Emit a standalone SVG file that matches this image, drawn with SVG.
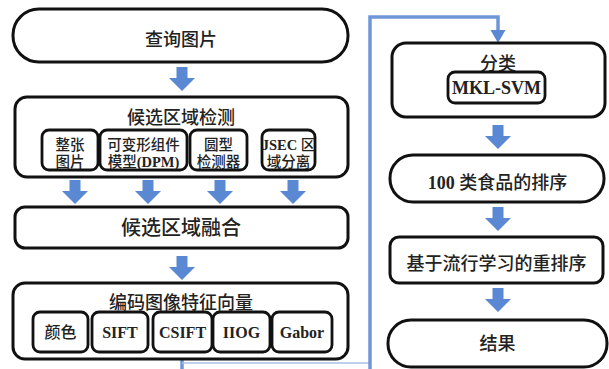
<svg xmlns="http://www.w3.org/2000/svg" width="609" height="369" viewBox="0 0 609 369">
<style>
.box{fill:#fff;stroke:#111;stroke-width:3}
.ibox{fill:#fff;stroke:#111;stroke-width:2.8}
.arr{fill:#5b88d2}
.conn{fill:none;stroke:#6f97d8;stroke-width:3.5}
.connlt{fill:none;stroke:#a9c0e6;stroke-width:1.5}
text{font-family:"Liberation Serif","Noto Sans CJK SC",serif;fill:#222;text-anchor:middle;font-weight:500}
.t18{font-size:18px}
.t20{font-size:20px}
.t15{font-size:14.5px}
.t16{font-size:16px}
.b{font-weight:bold}
</style>
<defs>
<path id="ar" d="M-5.5 0 H5.5 V11 H13 L0 24 L-13 11 H-5.5 Z"/>
</defs>
<rect width="609" height="369" fill="#fff"/>
<g id="connectors">
<path class="conn" d="M182 358 V369"/>
<path class="connlt" d="M182 363 H370"/>
<path class="conn" d="M370 369 V17 H498 V32"/>
<polygon class="arr" points="490.5,30 505.5,30 498,43"/>
<use href="#ar" class="arr" x="182" y="67"/>
<use href="#ar" class="arr" x="75" y="180"/>
<use href="#ar" class="arr" x="148" y="180"/>
<use href="#ar" class="arr" x="220" y="180"/>
<use href="#ar" class="arr" x="293" y="180"/>
<use href="#ar" class="arr" x="182" y="256"/>
<use href="#ar" class="arr" x="498" y="125"/>
<use href="#ar" class="arr" x="498" y="207"/>
<use href="#ar" class="arr" x="498" y="288"/>
</g>
<g id="query">
<rect class="box" x="13" y="9" width="335" height="53" rx="26"/>
<text class="t18" x="181" y="45.5">查询图片</text>
</g>
<g id="detect">
<rect class="box" x="15" y="97" width="333" height="80" rx="12"/>
<text class="t18" x="181" y="124">候选区域检测</text>
</g>
<g id="whole">
<rect class="ibox" x="42" y="130" width="56" height="40" rx="7"/>
<text class="t15" x="70" y="150">整张</text>
<text class="t15" x="70" y="167">图片</text>
</g>
<g id="dpm">
<rect class="ibox" x="100" y="130" width="87" height="40" rx="7"/>
<text class="t15" x="143.5" y="150">可变形组件</text>
<text class="t15" x="143.5" y="167">模型<tspan class="b">(DPM)</tspan></text>
</g>
<g id="circle">
<rect class="ibox" x="190" y="130" width="57" height="40" rx="7"/>
<text class="t15" x="218.5" y="150">圆型</text>
<text class="t15" x="218.5" y="167">检测器</text>
</g>
<g id="jsec">
<rect class="ibox" x="262" y="130" width="53" height="40" rx="7"/>
<text class="t15" x="288.5" y="150"><tspan class="b">JSEC</tspan> 区</text>
<text class="t15" x="288.5" y="167">域分离</text>
</g>
<g id="fusion">
<rect class="box" x="15" y="207" width="333" height="41" rx="10"/>
<text class="t20" x="181" y="235">候选区域融合</text>
</g>
<g id="encode">
<rect class="box" x="13" y="283" width="335" height="76" rx="12"/>
<text class="t18" x="181" y="308.5">编码图像特征向量</text>
</g>
<g id="color">
<rect class="ibox" x="33" y="312" width="55" height="40" rx="7"/>
<text class="t16" x="60.5" y="338">颜色</text>
</g>
<g id="sift">
<rect class="ibox" x="92" y="312" width="56" height="40" rx="7"/>
<text class="t16 b" x="120" y="338">SIFT</text>
</g>
<g id="csift">
<rect class="ibox" x="153" y="312" width="59" height="40" rx="7"/>
<text class="t16 b" x="182.5" y="338">CSIFT</text>
</g>
<g id="iiog">
<rect class="ibox" x="213" y="312" width="57" height="40" rx="7"/>
<text class="t16 b" x="241.5" y="338">IIOG</text>
</g>
<g id="gabor">
<rect class="ibox" x="272" y="312" width="60" height="40" rx="7"/>
<text class="t16 b" x="302" y="338">Gabor</text>
</g>
<g id="classify">
<rect class="box" x="392" y="43" width="213" height="74" rx="14"/>
<text class="t18" x="498" y="69.5">分类</text>
</g>
<g id="mklsvm">
<rect class="ibox" x="448" y="72" width="97" height="31" rx="7"/>
<text class="t18 b" x="496.5" y="94">MKL-SVM</text>
</g>
<g id="rank">
<rect class="box" x="390" y="155" width="214" height="47" rx="23"/>
<text class="t18" x="497.5" y="188.5"><tspan class="b">100</tspan> 类食品的排序</text>
</g>
<g id="rerank">
<rect class="box" x="390" y="237" width="213" height="46" rx="9"/>
<text class="t18" x="496.5" y="269.5">基于流行学习的重排序</text>
</g>
<g id="result">
<rect class="box" x="388" y="320" width="219" height="47" rx="23"/>
<text class="t18" x="497.5" y="349.5">结果</text>
</g>
</svg>
